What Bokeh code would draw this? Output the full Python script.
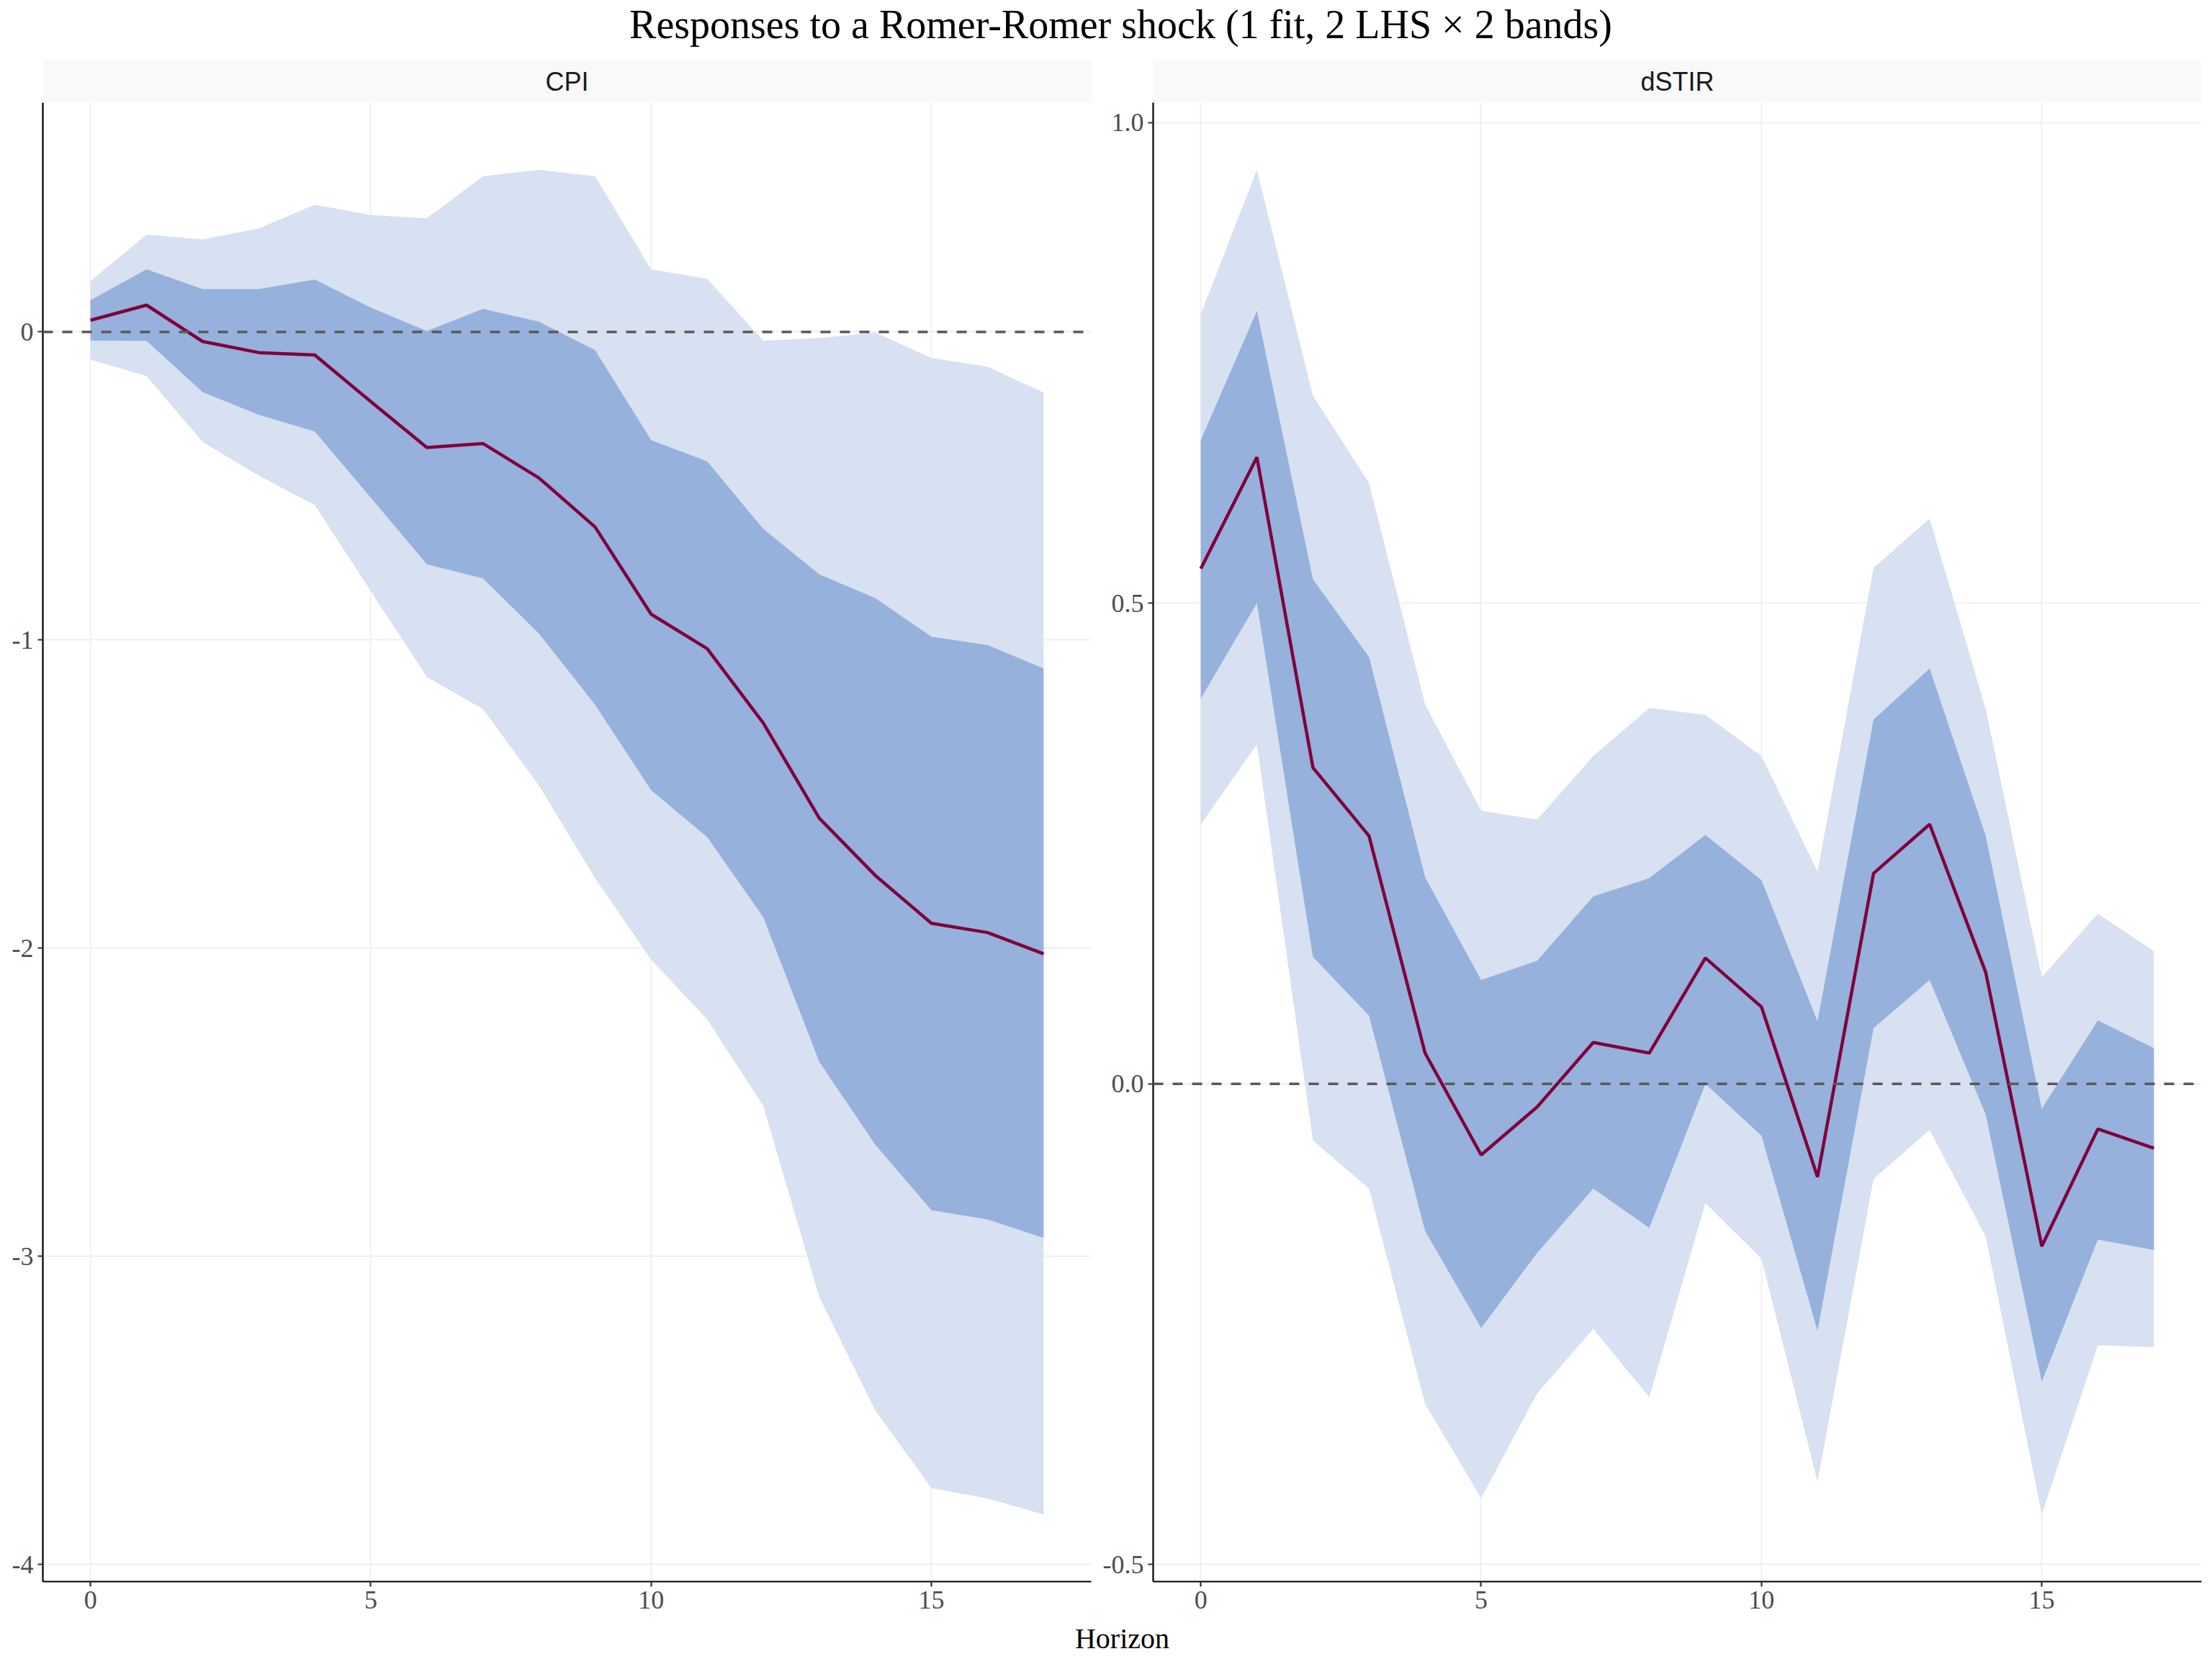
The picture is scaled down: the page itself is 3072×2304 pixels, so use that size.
from bokeh.plotting import figure
from bokeh.layouts import column, row
from bokeh.models import Range1d, FixedTicker, Span, Label, PrintfTickFormatter
from bokeh.embed import file_html
from bokeh.resources import INLINE

# ---------------- data ----------------
horizon = list(range(18))

cpi_irf = [0.038, 0.087, -0.031, -0.067, -0.075, -0.226, -0.375, -0.362, -0.474,
           -0.633, -0.916, -1.028, -1.269, -1.578, -1.764, -1.919, -1.949, -2.018]
cpi_u95 = [0.165, 0.316, 0.300, 0.336, 0.413, 0.379, 0.369, 0.505, 0.526,
           0.505, 0.203, 0.172, -0.028, -0.020, -0.002, -0.085, -0.113, -0.197]
cpi_u68 = [0.103, 0.203, 0.139, 0.139, 0.170, 0.079, 0.003, 0.075, 0.033,
           -0.059, -0.351, -0.420, -0.639, -0.787, -0.864, -0.989, -1.016, -1.092]
cpi_l68 = [-0.028, -0.029, -0.195, -0.269, -0.323, -0.538, -0.754, -0.800, -0.979,
           -1.210, -1.487, -1.639, -1.899, -2.369, -2.638, -2.850, -2.880, -2.940]
cpi_l95 = [-0.090, -0.143, -0.357, -0.466, -0.562, -0.841, -1.120, -1.224, -1.472,
           -1.773, -2.037, -2.231, -2.511, -3.133, -3.500, -3.752, -3.785, -3.837]

stir_irf = [0.536, 0.652, 0.329, 0.258, 0.032, -0.074, -0.024, 0.043, 0.032,
            0.131, 0.080, -0.097, 0.219, 0.270, 0.116, -0.169, -0.047, -0.067]
stir_u95 = [0.801, 0.951, 0.716, 0.625, 0.395, 0.284, 0.275, 0.341, 0.391,
            0.384, 0.341, 0.221, 0.537, 0.588, 0.390, 0.111, 0.177, 0.138]
stir_u68 = [0.670, 0.804, 0.525, 0.444, 0.215, 0.108, 0.128, 0.195, 0.214,
            0.259, 0.212, 0.065, 0.379, 0.432, 0.258, -0.026, 0.066, 0.037]
stir_l68 = [0.401, 0.500, 0.132, 0.071, -0.153, -0.254, -0.176, -0.109, -0.150,
            0.000, -0.054, -0.257, 0.058, 0.108, -0.032, -0.310, -0.162, -0.173]
stir_l95 = [0.270, 0.353, -0.059, -0.109, -0.333, -0.431, -0.322, -0.255, -0.326,
            -0.124, -0.182, -0.414, -0.099, -0.048, -0.159, -0.448, -0.272, -0.274]

x_ticks = [0, 5, 10, 15]
cpi_ticks = [-4, -3, -2, -1, 0]
stir_ticks = [-0.5, 0.0, 0.5, 1.0]

title_text = "Responses to a Romer-Romer shock (1 fit, 2 LHS \u00d7 2 bands)"
x_label = "Horizon"

# ---------------- style ----------------
SERIF = "Liberation Serif"
SANS = "Liberation Sans"
LIGHT = "#D7E1F2"
DARK = "#96B1DC"
LINE = "#80003C"
TOTAL_W = 3072
FRAME_W = 1456
FRAME_H = 2054


def expand(lo, hi, f=0.05):
    d = (hi - lo) * f
    return lo - d, hi + d


def strip(name, lb, rb):
    s = figure(frame_width=FRAME_W, frame_height=58, x_range=Range1d(0, 1), y_range=Range1d(0, 1),
               x_axis_type=None, y_axis_type=None, min_border_left=lb, min_border_right=rb,
               min_border_top=0, min_border_bottom=0, background_fill_color="#F9F9F9",
               border_fill_color="white", output_backend="svg", toolbar_location=None)
    s.outline_line_color = None
    s.add_layout(Label(x=0.5, y=0.5, text=name, text_align="center", text_baseline="middle",
                       text_font=SANS, text_font_size="36px", text_color="#1A1A1A"))
    return s


def panel(irf, u95, u68, l68, l95, yticks, fmt, lb, rb):
    x0, x1 = expand(min(horizon), max(horizon))
    y0, y1 = expand(min(l95), max(u95))
    p = figure(frame_width=FRAME_W, frame_height=FRAME_H, x_range=Range1d(x0, x1), y_range=Range1d(y0, y1),
               min_border_left=lb, min_border_right=rb, min_border_top=0, min_border_bottom=56,
               output_backend="svg", toolbar_location=None, background_fill_color="white")
    p.outline_line_color = None
    p.varea(x=horizon, y1=l95, y2=u95, fill_color=LIGHT)
    p.varea(x=horizon, y1=l68, y2=u68, fill_color=DARK)
    p.add_layout(Span(location=0, dimension="width", line_color="#595959", line_width=3.5,
                      line_dash="14 13"))
    p.line(horizon, irf, line_color=LINE, line_width=4.5)
    p.xaxis.ticker = FixedTicker(ticks=x_ticks)
    p.yaxis.ticker = FixedTicker(ticks=yticks)
    p.yaxis.formatter = PrintfTickFormatter(format=fmt)
    p.xaxis.formatter = PrintfTickFormatter(format="%d")
    for ax in p.axis:
        ax.axis_line_color = "black"
        ax.axis_line_width = 2.2
        ax.major_tick_line_color = "#333333"
        ax.major_tick_line_width = 2.2
        ax.major_tick_out = 7
        ax.major_tick_in = 0
        ax.minor_tick_line_color = None
        ax.major_label_text_font = SERIF
        ax.major_label_text_font_size = "36px"
        ax.major_label_text_color = "#4D4D4D"
        ax.major_label_standoff = 6
    p.grid.grid_line_color = "#EFEFEF"
    p.grid.grid_line_width = 2
    return p


LB_L, RB_L = 59, 10
LB_R, RB_R = 76, 15

s_l = strip("CPI", LB_L, RB_L)
s_r = strip("dSTIR", LB_R, RB_R)
p_l = panel(cpi_irf, cpi_u95, cpi_u68, cpi_l68, cpi_l95, cpi_ticks, "%d", LB_L, RB_L)
p_r = panel(stir_irf, stir_u95, stir_u68, stir_l68, stir_l95, stir_ticks, "%.1f", LB_R, RB_R)

t = figure(frame_width=TOTAL_W, frame_height=84, x_range=Range1d(0, TOTAL_W), y_range=Range1d(84, 0),
           x_axis_type=None, y_axis_type=None, min_border=0, output_backend="svg", toolbar_location=None)
t.outline_line_color = None
t.add_layout(Label(x=1556, y=33, text=title_text, text_align="center", text_baseline="middle",
                   text_font=SERIF, text_font_size="56px", text_color="black"))

b = figure(frame_width=TOTAL_W, frame_height=48, x_range=Range1d(0, TOTAL_W), y_range=Range1d(48, 0),
           x_axis_type=None, y_axis_type=None, min_border=0, output_backend="svg", toolbar_location=None)
b.outline_line_color = None
b.add_layout(Label(x=1558, y=23, text=x_label, text_align="center", text_baseline="middle",
                   text_font=SERIF, text_font_size="40px", text_color="black"))

layout = column(t, row(column(s_l, p_l), column(s_r, p_r)), b)

open("out.html", "w").write(file_html(layout, INLINE))
